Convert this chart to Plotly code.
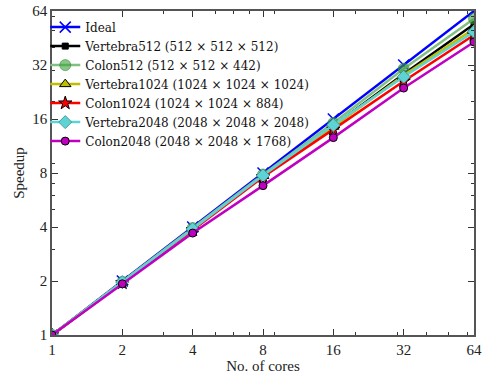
import plotly.graph_objects as go

cores = [1, 2, 4, 8, 16, 32, 64]
ideal = [1, 2, 4, 8, 16, 32, 64]
vertebra512 = [1, 1.97, 3.9, 7.7, 14.6, 28.5, 54]
colon512 = [1, 1.98, 3.95, 7.85, 15.2, 30.5, 58]
vertebra1024 = [1, 1.97, 3.9, 7.7, 14.5, 28.0, 51]
colon1024 = [1, 1.95, 3.85, 7.6, 14.0, 26.0, 47]
vertebra2048 = [1, 1.97, 3.9, 7.75, 14.8, 27.5, 49]
colon2048 = [1, 1.93, 3.7, 6.8, 12.6, 23.8, 43]

tick_vals = [1, 2, 4, 8, 16, 32, 64]
tick_text = ["1", "2", "4", "8", "16", "32", "64"]
minor_vals = [3, 5, 6, 7, 9, 20, 30, 40, 50, 60]

series = [
    ("Ideal", ideal, "#0000ff", dict(symbol="x-thin", size=11, color="#0000ff", line=dict(color="#0000ff", width=1.5))),
    ("Vertebra512 (512 × 512 × 512)", vertebra512, "#000000", dict(symbol="square", size=6, color="#000000", line=dict(color="#000000", width=1))),
    ("Colon512 (512 × 512 × 442)", colon512, "#80c080", dict(symbol="circle", size=11, color="rgba(60,160,60,0.6)", line=dict(color="rgba(60,140,60,0.6)", width=1))),
    ("Vertebra1024 (1024 × 1024 × 1024)", vertebra1024, "#bfbf00", dict(symbol="triangle-up", size=10, color="#bfbf00", line=dict(color="#000000", width=1))),
    ("Colon1024 (1024 × 1024 × 884)", colon1024, "#ff0000", dict(symbol="star", size=10, color="#ff0000", line=dict(color="#000000", width=1))),
    ("Vertebra2048 (2048 × 2048 × 2048)", vertebra2048, "#5fd3d3", dict(symbol="diamond", size=10, color="#5fd3d3", line=dict(color="#40a0a0", width=1))),
    ("Colon2048 (2048 × 2048 × 1768)", colon2048, "#c000c0", dict(symbol="circle", size=8, color="#c000c0", line=dict(color="#000000", width=1))),
]

fig = go.Figure()
for name, vals, col, mk in series:
    fig.add_trace(go.Scatter(x=cores, y=vals, name=name, mode="lines+markers",
                             line=dict(color=col, width=2.5), marker=mk))

font = "Liberation Serif, Times New Roman, serif"
axis_common = dict(
    type="log", tickmode="array", tickvals=tick_vals, ticktext=tick_text,
    ticks="inside", ticklen=6, tickwidth=1, tickcolor="#333",
    showline=True, linecolor="#555", linewidth=1.5, mirror="ticks",
    showgrid=False, zeroline=False, ticklabeloverflow="allow",
    tickfont=dict(family=font, size=15, color="#222"),
    minor=dict(tickmode="array", tickvals=minor_vals, ticks="inside", ticklen=3, tickcolor="#333", showgrid=False),
)

fig.update_layout(
    width=485, height=376,
    margin=dict(l=52, r=3, t=11, b=41),
    paper_bgcolor="white", plot_bgcolor="white",
    font=dict(family=font, size=13, color="#222"),
    showlegend=True,
    legend=dict(x=-0.016, y=0.995, xanchor="left", yanchor="top",
                bgcolor="rgba(255,255,255,0)", borderwidth=0,
                font=dict(family="DejaVu Serif", size=12, color="#111"),
                tracegroupgap=0, itemwidth=30),
)
fig.update_xaxes(**axis_common, range=[0, 1.80618],
                 title=dict(text="No. of cores", font=dict(family=font, size=15), standoff=0))
fig.update_yaxes(**axis_common, range=[0, 1.80618],
                 title=dict(text="Speedup", font=dict(family=font, size=15), standoff=4))

fig.write_html("out.html", config={"displayModeBar": False},
               post_script="document.body.style.margin='0';document.body.style.overflow='hidden';")
